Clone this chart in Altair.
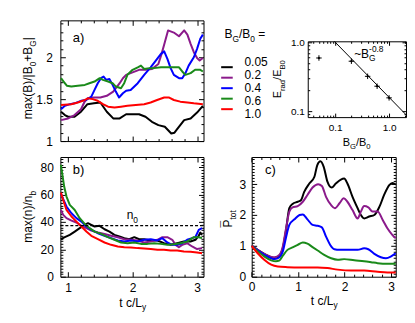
import altair as alt
import pandas as pd

FONT = "Liberation Sans"
W, H = 400, 307

LABELS = ["0.05", "0.2", "0.4", "0.6", "1.0"]
COLORS = ["#000000", "#8B1A8B", "#0000FF", "#1A8A1A", "#FF0000"]

# ---------------- panel a: max(B)/|B0+BG| ----------------
A_BLACK_X = [0.89, 0.95, 1.0, 1.1, 1.2, 1.3, 1.4, 1.5, 1.6, 1.7, 1.8, 1.9, 2.0, 2.1, 2.2, 2.3, 2.4, 2.5, 2.6, 2.65, 2.7, 2.8, 2.9, 3.0, 3.09]
A_BLACK_Y = [1.35, 1.31, 1.29, 1.29, 1.35, 1.44, 1.45, 1.46, 1.35, 1.27, 1.27, 1.32, 1.32, 1.32, 1.29, 1.23, 1.19, 1.17, 1.09, 1.10, 1.15, 1.25, 1.27, 1.34, 1.42]
A_PURPLE_X = [0.89, 1.0, 1.1, 1.2, 1.25, 1.3, 1.4, 1.5, 1.6, 1.7, 1.8, 1.85, 1.9, 2.0, 2.1, 2.2, 2.3, 2.4, 2.45, 2.5, 2.55, 2.65, 2.72, 2.8, 2.85, 2.9, 2.95, 3.0, 3.04, 3.09]
A_PURPLE_Y = [1.25, 1.27, 1.31, 1.38, 1.46, 1.51, 1.52, 1.52, 1.54, 1.59, 1.69, 1.75, 1.79, 1.82, 1.85, 1.85, 1.86, 1.92, 2.04, 2.18, 2.32, 2.29, 2.25, 2.32, 2.27, 2.16, 2.06, 1.99, 1.96, 1.99]
A_BLUE_X = [0.89, 0.95, 1.03, 1.1, 1.2, 1.28, 1.36, 1.41, 1.46, 1.51, 1.55, 1.59, 1.64, 1.69, 1.74, 1.79, 1.85, 1.9, 1.97, 2.08, 2.18, 2.28, 2.36, 2.44, 2.49, 2.54, 2.59, 2.64, 2.72, 2.77, 2.82, 2.87, 2.95, 3.0, 3.05, 3.09]
A_BLUE_Y = [1.38, 1.42, 1.44, 1.45, 1.48, 1.49, 1.53, 1.61, 1.69, 1.75, 1.77, 1.73, 1.74, 1.67, 1.59, 1.52, 1.57, 1.60, 1.61, 1.69, 1.79, 1.88, 1.96, 2.04, 2.07, 1.98, 1.87, 1.79, 1.75, 1.75, 1.81, 1.90, 2.00, 2.10, 2.22, 2.27]
A_GREEN_X = [0.89, 0.93, 0.98, 1.05, 1.15, 1.26, 1.33, 1.41, 1.49, 1.54, 1.62, 1.69, 1.74, 1.82, 1.87, 1.92, 2.0, 2.08, 2.13, 2.18, 2.26, 2.33, 2.44, 2.54, 2.72, 2.77, 2.82, 2.9, 2.97, 3.05, 3.09]
A_GREEN_Y = [1.75, 1.71, 1.66, 1.65, 1.66, 1.67, 1.69, 1.71, 1.75, 1.73, 1.71, 1.69, 1.65, 1.63, 1.69, 1.79, 1.85, 1.88, 1.90, 1.86, 1.87, 1.87, 1.88, 1.88, 1.88, 1.83, 1.79, 1.81, 1.85, 1.85, 1.83]
A_RED_X = [0.89, 1.05, 1.15, 1.26, 1.31, 1.38, 1.46, 1.54, 1.62, 1.72, 1.82, 1.92, 2.05, 2.18, 2.28, 2.38, 2.49, 2.56, 2.64, 2.74, 2.85, 2.95, 3.09]
A_RED_Y = [1.43, 1.44, 1.46, 1.49, 1.51, 1.50, 1.48, 1.44, 1.41, 1.40, 1.41, 1.42, 1.43, 1.44, 1.46, 1.49, 1.52, 1.52, 1.49, 1.47, 1.46, 1.45, 1.44]

# ---------------- panel b: max(n)/n_b ----------------
B_BLACK_X = [0.888, 0.949, 1.026, 1.103, 1.18, 1.257, 1.308, 1.36, 1.411, 1.488, 1.565, 1.642, 1.718, 1.795, 1.872, 1.949, 2.026, 2.103, 2.18, 2.282, 2.385, 2.487, 2.59, 2.692, 2.795, 2.898, 2.975, 3.026, 3.051, 3.077]
B_BLACK_Y = [27.4, 28.9, 30.6, 33.0, 35.5, 37.9, 39.1, 37.9, 36.7, 37.2, 34.7, 33.0, 30.6, 29.4, 28.2, 27.4, 28.9, 27.4, 27.4, 26.5, 26.5, 24.5, 23.3, 24.5, 25.7, 25.7, 27.0, 29.9, 32.3, 30.6]
B_PURPLE_X = [0.888, 0.924, 0.975, 1.052, 1.129, 1.206, 1.283, 1.36, 1.462, 1.565, 1.667, 1.77, 1.872, 1.975, 2.077, 2.18, 2.282, 2.385, 2.462, 2.539, 2.616, 2.667, 2.718, 2.77, 2.846, 2.923, 3.0, 3.077]
B_PURPLE_Y = [48.8, 45.2, 42.8, 41.0, 39.6, 37.2, 35.5, 33.8, 32.3, 31.3, 29.9, 28.9, 27.4, 27.0, 26.5, 25.0, 25.7, 27.0, 28.9, 28.9, 27.0, 23.3, 21.6, 23.3, 24.5, 22.1, 20.2, 20.9]
B_BLUE_X = [0.888, 0.924, 0.975, 1.052, 1.129, 1.206, 1.283, 1.36, 1.462, 1.565, 1.667, 1.77, 1.872, 1.975, 2.077, 2.18, 2.282, 2.385, 2.462, 2.539, 2.616, 2.692, 2.77, 2.846, 2.923, 2.975, 3.026, 3.077]
B_BLUE_Y = [61.0, 56.6, 51.3, 46.4, 42.8, 40.3, 36.7, 34.2, 31.8, 29.9, 28.2, 26.5, 25.7, 26.5, 25.7, 27.0, 27.4, 26.5, 28.2, 25.0, 23.3, 23.3, 24.5, 27.0, 28.2, 29.0, 34.2, 35.5]
B_GREEN_X = [0.888, 0.908, 0.939, 0.975, 1.026, 1.103, 1.18, 1.257, 1.334, 1.411, 1.513, 1.616, 1.718, 1.821, 1.923, 2.026, 2.129, 2.231, 2.334, 2.436, 2.539, 2.641, 2.744, 2.846, 2.949, 3.026, 3.077]
B_GREEN_Y = [81.7, 75.6, 65.9, 58.6, 52.5, 48.8, 42.8, 38.6, 35.5, 33.0, 31.3, 28.9, 27.0, 25.0, 24.5, 25.0, 24.0, 24.0, 24.5, 24.0, 23.3, 23.8, 24.5, 25.7, 28.9, 28.9, 28.2]
B_RED_X = [0.888, 0.924, 0.975, 1.052, 1.129, 1.206, 1.283, 1.36, 1.462, 1.565, 1.667, 1.77, 1.872, 1.975, 2.077, 2.18, 2.282, 2.385, 2.487, 2.59, 2.692, 2.795, 2.898, 3.0, 3.077]
B_RED_Y = [61.5, 56.1, 48.8, 44.0, 40.3, 36.7, 33.0, 29.9, 27.4, 25.0, 23.3, 22.1, 21.6, 21.4, 20.9, 20.7, 20.2, 19.7, 19.7, 19.2, 19.2, 18.4, 18.2, 17.7, 17.2]
N0_LEVEL = 37.3

# ---------------- panel c: P_tot ----------------
C_BLACK_X = [0, 0.13, 0.27, 0.42, 0.52, 0.6, 0.67, 0.74, 0.81, 0.88, 0.99, 1.06, 1.13, 1.24, 1.35, 1.41, 1.48, 1.55, 1.63, 1.72, 1.81, 1.92, 1.99, 2.06, 2.17, 2.28, 2.35, 2.42, 2.53, 2.64, 2.75, 2.85, 2.96, 3.03, 3.1]
C_BLACK_Y = [1.01, 0.87, 0.74, 0.63, 0.60, 0.68, 0.92, 1.52, 2.22, 2.36, 2.43, 2.48, 2.75, 3.02, 3.24, 3.61, 3.74, 3.56, 3.08, 2.89, 3.02, 3.15, 3.18, 3.02, 2.59, 2.22, 2.0, 1.89, 1.95, 2.0, 2.27, 2.65, 2.97, 3.04, 2.99]
C_PURPLE_X = [0, 0.27, 0.49, 0.6, 0.67, 0.74, 0.81, 0.88, 0.99, 1.1, 1.2, 1.31, 1.43, 1.51, 1.6, 1.71, 1.79, 1.89, 1.98, 2.06, 2.17, 2.28, 2.35, 2.42, 2.51, 2.6, 2.71, 2.82, 2.92, 3.03, 3.1]
C_PURPLE_Y = [1.0, 0.74, 0.63, 0.71, 0.98, 1.57, 2.11, 2.25, 2.29, 2.43, 2.65, 2.89, 3.0, 2.94, 2.59, 2.32, 2.22, 2.38, 2.54, 2.43, 2.16, 1.89, 2.11, 2.29, 2.25, 2.11, 2.11, 1.84, 1.57, 1.35, 1.25]
C_BLUE_X = [0, 0.27, 0.49, 0.6, 0.67, 0.74, 0.81, 0.92, 1.03, 1.1, 1.2, 1.31, 1.42, 1.51, 1.6, 1.69, 1.78, 1.89, 2.06, 2.28, 2.42, 2.51, 2.64, 2.78, 2.89, 3.0, 3.1]
C_BLUE_Y = [1.0, 0.71, 0.57, 0.63, 0.82, 1.28, 1.68, 1.86, 2.0, 2.02, 1.86, 1.68, 1.65, 1.60, 1.30, 1.03, 0.89, 0.87, 0.87, 0.87, 0.92, 0.89, 0.74, 0.63, 0.60, 0.66, 0.76]
C_GREEN_X = [0, 0.27, 0.42, 0.52, 0.6, 0.67, 0.77, 0.88, 0.99, 1.1, 1.2, 1.31, 1.42, 1.56, 1.71, 1.85, 1.99, 2.21, 2.42, 2.57, 2.71, 2.92, 3.1]
C_GREEN_Y = [1.0, 0.66, 0.53, 0.50, 0.53, 0.68, 0.87, 0.95, 1.03, 1.11, 1.07, 0.96, 0.85, 0.71, 0.60, 0.55, 0.57, 0.53, 0.50, 0.47, 0.44, 0.42, 0.42]
C_RED_X = [0, 0.13, 0.27, 0.42, 0.56, 0.77, 1.06, 1.42, 1.63, 1.85, 2.14, 2.42, 2.71, 2.92, 3.1]
C_RED_Y = [1.0, 0.76, 0.55, 0.39, 0.33, 0.31, 0.30, 0.30, 0.28, 0.23, 0.20, 0.20, 0.16, 0.14, 0.14]

# ---------------- inset: E_rad/E_B0 vs B_G/B_0 ----------------
INSET_BG = [0.05, 0.2, 0.4, 0.6, 1.0]
INSET_E = [0.59, 0.53, 0.32, 0.23, 0.156]
FIT_X = [0.097, 2.06]
FIT_Y = [1.025, 0.089]

# tick values
AX_MINOR = [1.0, 1.2, 1.4, 1.6, 1.8, 2.0, 2.2, 2.4, 2.6, 2.8, 3.0]
AX_MAJOR = [1, 2, 3]
AY_MINOR = [1.0, 1.1, 1.2, 1.3, 1.4, 1.5, 1.6, 1.7, 1.8, 1.9, 2.0, 2.1, 2.2, 2.3, 2.4]
AY_MAJOR = [1, 1.5, 2]
BY_MINOR = [0, 2, 4, 6, 8, 10, 12, 14, 16, 18, 20, 22, 24, 26, 28, 30, 32, 34, 36, 38, 40, 42, 44, 46, 48, 50,
            52, 54, 56, 58, 60, 62, 64, 66, 68, 70, 72, 74, 76, 78, 80, 82, 84, 86]
BY_MAJOR = [0, 20, 40, 60, 80]
CX_MINOR = [0.0, 0.2, 0.4, 0.6, 0.8, 1.0, 1.2, 1.4, 1.6, 1.8, 2.0, 2.2, 2.4, 2.6, 2.8, 3.0]
CX_MAJOR = [0, 1, 2, 3]
CY_MINOR = [0.0, 0.1, 0.2, 0.3, 0.4, 0.5, 0.6, 0.7, 0.8, 0.9, 1.0, 1.1, 1.2, 1.3, 1.4, 1.5, 1.6, 1.7, 1.8, 1.9,
            2.0, 2.1, 2.2, 2.3, 2.4, 2.5, 2.6, 2.7, 2.8, 2.9, 3.0, 3.1, 3.2, 3.3, 3.4, 3.5, 3.6, 3.7, 3.8]
CY_MAJOR = [0, 1, 2, 3]
IX_TICKS = [0.04, 0.05, 0.06, 0.07, 0.08, 0.09, 0.1, 0.2, 0.3, 0.4, 0.5, 0.6, 0.7, 0.8, 0.9, 1.0, 2.0]
IX_MAJOR = [0.1, 1.0]
IY_TICKS = [0.09, 0.1, 0.2, 0.3, 0.4, 0.5, 0.6, 0.7, 0.8, 0.9, 1.0]
IY_MAJOR = [0.1, 1.0]

# ---------------- helpers ----------------
AW = {' ': 278, '(': 333, ')': 333, '+': 584, '-': 333, '.': 278, '/': 278, '=': 584,
      '~': 584, '|': 260, '\u00af': 552, 'B': 667, 'E': 667, 'G': 778, 'I': 278, 'L': 556, 'P': 667,
      'a': 556, 'b': 556, 'c': 500, 'd': 556, 'm': 833, 'n': 556, 'o': 556, 'r': 333, 't': 278,
      'x': 500, 'y': 500}


def twidth(s, fs):
    return sum(AW.get(ch, 556) for ch in s) * fs / 1000.0


def text_layer(t, px, py, f, angle=0):
    kw = dict(align='left', baseline='alphabetic', fontSize=f, font=FONT, color='black')
    if angle:
        kw['angle'] = angle
    return alt.Chart(pd.DataFrame({'t': [t]})).mark_text(**kw).encode(
        x=alt.value(px), y=alt.value(py), text='t:N')


def rich(pieces, ax, ay, fs, angle=0, align='center'):
    """pieces: (text, kind[, advance]); kind 'gap' only advances by a blank of that width."""
    items, pos = [], 0.0
    for p in pieces:
        t, k = p[0], p[1]
        adv = p[2] if len(p) > 2 else True
        f = fs if k in ('n', 'bar', 'gap') else round(fs * 0.7, 1)
        if k != 'gap':
            items.append((t, k, f, pos))
        if adv:
            pos += twidth(t, f)
    start = -pos / 2 if align == 'center' else 0.0
    shifts = {'n': 0.0, 'sub': 0.3 * fs, 'sup': -0.45 * fs, 'bar': -0.2 * fs}
    out = []
    for t, k, f, off in items:
        s = shifts[k]
        if angle == 0:
            px, py = ax + start + off, ay + s
        else:
            px, py = ax + 0.36 * fs + s, ay - (start + off)
        out.append(text_layer(t, px, py, f, angle))
    return out


def lin(dom, rng):
    return alt.Scale(type='linear', domain=dom, range=rng, nice=False, zero=False)


def logs(dom, rng):
    return alt.Scale(type='log', domain=dom, range=rng, nice=False)


COLOR = alt.Color('s:N', scale=alt.Scale(domain=LABELS, range=COLORS), legend=None)


def long_df(series):
    rows = []
    for lab, xs, ys in series:
        for xv, yv in zip(xs, ys):
            rows.append({'s': lab, 'x': xv, 'y': yv})
    return pd.DataFrame(rows)


def lines(df, xs, ys, interp='linear'):
    return alt.Chart(df).mark_line(strokeWidth=2, interpolate=interp, strokeJoin='round').encode(
        x=alt.X('x:Q', scale=xs, axis=None),
        y=alt.Y('y:Q', scale=ys, axis=None),
        color=COLOR, detail='s:N')


def tick_ax(orient, offset, vals, test, major, minor):
    return alt.Axis(orient=orient, offset=offset, values=vals, labels=False, ticks=True,
                    domain=True, grid=False, title=None,
                    tickSize={"condition": {"test": test, "value": major}, "value": minor},
                    tickColor='black', tickWidth=1, domainColor='black', domainWidth=1)


def label_ax(orient, offset, vals, fmt, pad, fs):
    return alt.Axis(orient=orient, offset=offset, values=vals, format=fmt, labels=True,
                    ticks=False, tickSize=0, domain=False, grid=False, title=None,
                    labelPadding=pad, labelFontSize=fs, labelFont=FONT, labelColor='black',
                    labelFlush=False, labelOverlap=False)


def frame_axes(mkx, mky, xdom, ydom, box, xvals, yvals, xtest, ytest,
               xlab=None, ylab=None, xfmt='d', yfmt='d', xpad=7, ypad=7, lfs=12,
               major=5, minor=2.5):
    X0, X1, Y0, Y1 = box
    base = alt.Chart(pd.DataFrame({'x': [xdom[0]], 'y': [ydom[0]]})).mark_point(opacity=0)
    out = [
        base.encode(x=alt.X('x:Q', scale=mkx(), axis=tick_ax('top', -Y1, xvals, xtest, major, minor)),
                    y=alt.Y('y:Q', scale=mky(), axis=tick_ax('right', X0 - W, yvals, ytest, major, minor))),
        base.encode(x=alt.X('x:Q', scale=mkx(), axis=tick_ax('bottom', Y0 - H, xvals, xtest, major, minor)),
                    y=alt.Y('y:Q', scale=mky(), axis=tick_ax('left', -X1, yvals, ytest, major, minor))),
    ]
    if xlab is not None or ylab is not None:
        xa = label_ax('bottom', Y1 - H, xlab, xfmt, xpad, lfs) if xlab is not None else None
        ya = label_ax('left', -X0, ylab, yfmt, ypad, lfs) if ylab is not None else None
        out.append(base.encode(x=alt.X('x:Q', scale=mkx(), axis=xa),
                               y=alt.Y('y:Q', scale=mky(), axis=ya)))
    return out


# panel geometry (plot-area pixels)
BOX_A = (52.5, 196.0, 12.0, 133.0)
BOX_B = (52.5, 196.0, 149.0, 269.0)
BOX_C = (244.3, 388.7, 149.0, 269.0)
BOX_I = (300.5, 399.0, 33.0, 109.0)

AXD = [0.88, 3.1]
AYD = [1.0, 2.44]
BYD = [0.0, 87.5]
CXD = [0.0, 3.1]
CYD = [0.0, 3.88]
IXD = [0.031, 2.06]
IYD = [0.082, 1.03]

ax_s = lambda: lin(AXD, [BOX_A[0], BOX_A[1]])
ay_s = lambda: lin(AYD, [BOX_A[3], BOX_A[2]])
bx_s = lambda: lin(AXD, [BOX_B[0], BOX_B[1]])
by_s = lambda: lin(BYD, [BOX_B[3], BOX_B[2]])
cx_s = lambda: lin(CXD, [BOX_C[0], BOX_C[1]])
cy_s = lambda: lin(CYD, [BOX_C[3], BOX_C[2]])
ix_s = lambda: logs(IXD, [BOX_I[0], BOX_I[1]])
iy_s = lambda: logs(IYD, [BOX_I[3], BOX_I[2]])

INT_TEST = "abs(datum.value - round(datum.value)) < 0.001"
HALF_TEST = "abs(datum.value * 2 - round(datum.value * 2)) < 0.001"
B_TEST = "datum.value % 20 === 0"
LOG_TEST = "abs(log(datum.value) / LN10 - round(log(datum.value) / LN10)) < 0.001"

layers = []

df_a = long_df([(LABELS[0], A_BLACK_X, A_BLACK_Y), (LABELS[1], A_PURPLE_X, A_PURPLE_Y),
                (LABELS[2], A_BLUE_X, A_BLUE_Y), (LABELS[3], A_GREEN_X, A_GREEN_Y),
                (LABELS[4], A_RED_X, A_RED_Y)])
df_b = long_df([(LABELS[0], B_BLACK_X, B_BLACK_Y), (LABELS[1], B_PURPLE_X, B_PURPLE_Y),
                (LABELS[2], B_BLUE_X, B_BLUE_Y), (LABELS[3], B_GREEN_X, B_GREEN_Y),
                (LABELS[4], B_RED_X, B_RED_Y)])
df_c = long_df([(LABELS[0], C_BLACK_X, C_BLACK_Y), (LABELS[1], C_PURPLE_X, C_PURPLE_Y),
                (LABELS[2], C_BLUE_X, C_BLUE_Y), (LABELS[3], C_GREEN_X, C_GREEN_Y),
                (LABELS[4], C_RED_X, C_RED_Y)])

layers.append(lines(df_a, ax_s(), ay_s()))
layers.append(lines(df_b, bx_s(), by_s()))
layers.append(lines(df_c, cx_s(), cy_s(), interp='monotone'))

# n0 dashed level
layers.append(alt.Chart(pd.DataFrame({'x': [AXD[0]], 'x2': [AXD[1]], 'y': [N0_LEVEL]}))
              .mark_rule(strokeDash=[3, 2], color='black', strokeWidth=1.2)
              .encode(x=alt.X('x:Q', scale=bx_s(), axis=None), x2='x2:Q',
                      y=alt.Y('y:Q', scale=by_s(), axis=None)))

# inset
df_fit = pd.DataFrame({'x': FIT_X, 'y': FIT_Y})
df_pts = pd.DataFrame({'x': INSET_BG, 'y': INSET_E})
layers.append(alt.Chart(df_fit).mark_line(color='black', strokeWidth=1).encode(
    x=alt.X('x:Q', scale=ix_s(), axis=None), y=alt.Y('y:Q', scale=iy_s(), axis=None)))
layers.append(alt.Chart(df_pts).mark_point(shape="M-1,0L1,0M0,-1L0,1", size=30, filled=False,
                                           color='black', strokeWidth=1, opacity=1).encode(
    x=alt.X('x:Q', scale=ix_s(), axis=None), y=alt.Y('y:Q', scale=iy_s(), axis=None)))
layers.append(alt.Chart(df_pts).mark_circle(size=5, color='black', opacity=1).encode(
    x=alt.X('x:Q', scale=ix_s(), axis=None), y=alt.Y('y:Q', scale=iy_s(), axis=None)))

# legend
df_leg = pd.DataFrame({'s': LABELS})
LEG_Y = alt.Y('s:N', scale=alt.Scale(domain=LABELS, range=[53.7, 106.3], padding=0), axis=None)
layers.append(alt.Chart(df_leg).mark_rule(strokeWidth=2).encode(
    x=alt.value(213.7), x2=alt.value(225.3), y=LEG_Y, color=COLOR))
layers.append(alt.Chart(df_leg).mark_text(align='left', baseline='middle', fontSize=12, font=FONT,
                                          color='black').encode(
    x=alt.value(237), y=LEG_Y, text='s:N'))

# texts
layers += rich([("B", 'n'), ("G", 'sub'), ("/B", 'n'), ("0", 'sub'), (" ", 'gap'), ("=", 'n')], 217, 29.6, 12, align='left')
layers += rich([("max(B)/|B", 'n'), ("0", 'sub'), ("+B", 'n'), ("G", 'sub'), ("|", 'n')], 20, 70, 12, angle=270)
layers += rich([("max(n)/n", 'n'), ("b", 'sub')], 20, 209, 12, angle=270)
layers += rich([("\u00af", 'bar', False), ("P", 'n'), ("tot", 'sub')], 220.5, 211, 12, angle=270)
layers += rich([("t c/L", 'n'), ("y", 'sub')], 125, 299, 12)
layers += rich([("t c/L", 'n'), ("y", 'sub')], 317, 297, 12)
layers += rich([("E", 'n'), ("rad", 'sub'), ("/E", 'n'), ("B0", 'sub')], 270, 71, 11, angle=270)
layers += rich([("B", 'n'), ("G", 'sub'), ("/B", 'n'), ("0", 'sub')], 349.5, 137.5, 11)
layers += rich([("~B", 'n'), ("G", 'sub', False), ("-0.8", 'sup')], 347, 49.5, 12, align='left')
layers += rich([("n", 'n'), ("0", 'sub')], 119, 211.5, 12, align='left')
layers += rich([("a)", 'n')], 65, 33.5, 13, align='left')
layers += rich([("b)", 'n')], 65, 166, 13, align='left')
layers += rich([("c)", 'n')], 257.7, 166, 13, align='left')

# frames, ticks, tick labels
layers += frame_axes(ax_s, ay_s, AXD, AYD, BOX_A, AX_MINOR, AY_MINOR, INT_TEST, HALF_TEST,
                     xlab=None, ylab=AY_MAJOR, yfmt='~g', ypad=8)
layers += frame_axes(bx_s, by_s, AXD, BYD, BOX_B, AX_MINOR, BY_MINOR, INT_TEST, B_TEST,
                     xlab=AX_MAJOR, ylab=BY_MAJOR, xfmt='d', yfmt='d', xpad=6, ypad=7)
layers += frame_axes(cx_s, cy_s, CXD, CYD, BOX_C, CX_MINOR, CY_MINOR, INT_TEST, INT_TEST,
                     xlab=CX_MAJOR, ylab=CY_MAJOR, xfmt='d', yfmt='d', xpad=5, ypad=6)
layers += frame_axes(ix_s, iy_s, IXD, IYD, BOX_I, IX_TICKS, IY_TICKS, LOG_TEST, LOG_TEST,
                     xlab=IX_MAJOR, ylab=IY_MAJOR, xfmt='.1f', yfmt='.1f', xpad=5, ypad=3.5,
                     lfs=10, major=4, minor=2)

chart = (alt.layer(*layers)
         .resolve_scale(x='independent', y='independent')
         .properties(width=W, height=H, padding=0, autosize=alt.AutoSizeParams(type='none'))
         .configure_view(stroke=None)
         .configure_axis(grid=False))

chart.save("out.html", embed_options={"renderer": "svg", "actions": False})
